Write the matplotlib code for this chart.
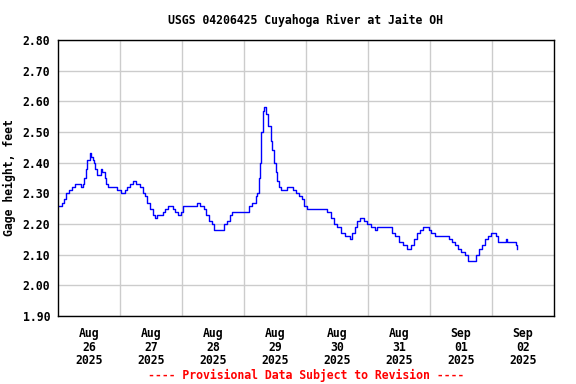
import numpy as np
import matplotlib.pyplot as plt

# hours since Aug 26 00:00, gage height in feet
hours = [0, 1.5, 2.5, 3.2, 4.3, 5.5, 6.6, 8.6, 9.0, 9.8, 10.1, 10.9, 11.4, 12.2, 12.8,
         13.6, 14.0, 14.4, 15.2, 16.4, 16.7, 17.1, 18.0, 18.6, 19.4, 23.0, 24.4, 26.0,
         26.7, 27.9, 29.1, 30.0, 31.8, 32.9, 33.7, 34.5, 35.6, 36.8, 37.5, 38.3, 40.5,
         41.4, 42.6, 44.5, 45.3, 46.5, 47.5, 48.4, 53.8, 55.0, 56.5, 57.3, 58.4, 59.6,
         60.4, 64.2, 65.4, 66.6, 67.3, 73.9, 75.1, 76.6, 77.0, 77.8, 78.2, 78.5, 79.3,
         79.7, 80.5, 81.3, 82.4, 82.8, 83.6, 84.4, 84.7, 85.5, 86.3, 88.6, 91.0, 92.1,
         93.2, 94.4, 95.2, 96.4, 104.1, 105.7, 106.8, 108.0, 109.5, 111.1, 113.0, 113.8,
         114.9, 115.7, 116.8, 118.4, 119.6, 121.1, 122.7, 123.5, 129.2, 130.4, 131.9,
         133.5, 135.0, 136.6, 137.7, 138.9, 140.0, 141.2, 143.5, 144.3, 145.8, 150.1,
         151.2, 152.4, 153.5, 154.7, 155.9, 157.4, 158.6, 162.0, 162.8, 164.0, 165.1,
         166.3, 167.8, 169.4, 170.5, 173.6, 174.0, 177.1, 177.5]
height = [2.26, 2.27, 2.28, 2.30, 2.31, 2.32, 2.33, 2.33, 2.32, 2.33, 2.35, 2.38, 2.41, 2.43, 2.42,
          2.41, 2.40, 2.38, 2.36, 2.36, 2.38, 2.37, 2.35, 2.33, 2.32, 2.31, 2.30, 2.31,
          2.32, 2.33, 2.34, 2.33, 2.32, 2.30, 2.29, 2.27, 2.25, 2.23, 2.22, 2.23, 2.24,
          2.25, 2.26, 2.25, 2.24, 2.23, 2.24, 2.26, 2.27, 2.26, 2.25, 2.23, 2.21, 2.20,
          2.18, 2.20, 2.21, 2.23, 2.24, 2.26, 2.27, 2.29, 2.30, 2.35, 2.40, 2.50, 2.57,
          2.58, 2.56, 2.52, 2.47, 2.44, 2.40, 2.37, 2.34, 2.32, 2.31, 2.32, 2.31, 2.30,
          2.29, 2.28, 2.26, 2.25, 2.24, 2.22, 2.20, 2.19, 2.17, 2.16, 2.15, 2.17,
          2.19, 2.21, 2.22, 2.21, 2.20, 2.19, 2.18, 2.19, 2.17, 2.16, 2.14,
          2.13, 2.12, 2.13, 2.15, 2.17, 2.18, 2.19, 2.18, 2.17, 2.16, 2.16,
          2.15, 2.14, 2.13, 2.12, 2.11, 2.10, 2.08, 2.10, 2.12, 2.13, 2.15,
          2.16, 2.17, 2.16, 2.14, 2.15, 2.14, 2.13, 2.12]

day_labels = ['Aug\n26\n2025', 'Aug\n27\n2025', 'Aug\n28\n2025', 'Aug\n29\n2025',
              'Aug\n30\n2025', 'Aug\n31\n2025', 'Sep\n01\n2025', 'Sep\n02\n2025']
y_ticks = np.arange(1.9, 2.81, 0.1)

mono = 'DejaVu Sans Mono'
fig = plt.figure(figsize=(5.76, 3.84), dpi=100)
ax = fig.add_axes([58/576, 1-316/384, 496/576, 276/384])

ax.plot(hours, height, color='#0000ff', lw=1, drawstyle='steps-post')

ax.set_xlim(0, 192)
ax.set_ylim(1.9, 2.8)
ax.set_yticks(y_ticks)
ax.set_yticklabels([f'{v:.2f}' for v in y_ticks], family=mono, fontweight='bold', fontsize=8.3)
ax.set_xticks(np.arange(12, 192, 24))
ax.set_xticklabels(day_labels, family=mono, fontweight='bold', fontsize=8.3, linespacing=1.05)
ax.set_xticks(np.arange(24, 192, 24), minor=True)
ax.tick_params(axis='both', which='both', length=0)
ax.tick_params(axis='x', pad=8)
ax.tick_params(axis='y', pad=5.5)
ax.grid(True, axis='y', color='#cccccc', lw=1)
ax.grid(True, axis='x', which='minor', color='#cccccc', lw=1)
ax.set_axisbelow(True)
for s in ax.spines.values():
    s.set_linewidth(1)
    s.set_color('black')

ax.set_ylabel('Gage height, feet', family=mono, fontweight='bold', fontsize=8.3)
ax.yaxis.set_label_coords((16 - 58) / 496, 0.5)
fig.text(306/576, 1-20/384, 'USGS 04206425 Cuyahoga River at Jaite OH', family=mono,
         fontweight='bold', fontsize=8.3, ha='center', va='center')
fig.text(306/576, 1-375/384, '---- Provisional Data Subject to Revision ----', family=mono,
         fontweight='bold', fontsize=8.3, color='red', ha='center', va='center')

fig.savefig('out.png', dpi=100)
